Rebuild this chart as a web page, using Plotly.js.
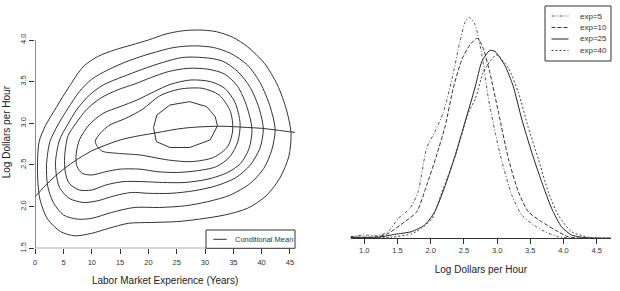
<!DOCTYPE html>
<html><head><meta charset="utf-8">
<script src="https://cdn.plot.ly/plotly-3.0.1.min.js"></script>
<style>html,body{margin:0;padding:0;background:#fff}#chart{width:620px;height:291px}</style>
</head><body><div id="chart"></div>
<script>
// ---------- Left panel: bivariate density contours (experience vs log wage) ----------
const expTicks = [0, 5, 10, 15, 20, 25, 30, 35, 40, 45];
const wageTicksLeft = [1.5, 2.0, 2.5, 3.0, 3.5, 4.0];

const contour1X = [0.4,0.7,1.8,3.8,6.0,8.5,11.0,14.0,17.0,20.0,23.0,26.0,29.0,32.0,35.0,37.5,40.5,42.8,44.4,45.2,44.8,43.2,40.8,37.5,33.5,29.0,25.0,20.5,16.5,13.0,10.0,7.0,4.5,2.2,0.8,0.4];
const contour1Y = [2.45,2.78,2.97,3.2,3.44,3.68,3.8,3.88,3.94,4.0,4.07,4.11,4.12,4.1,4.03,3.92,3.72,3.46,3.16,2.88,2.6,2.34,2.13,1.98,1.9,1.85,1.82,1.81,1.8,1.74,1.68,1.65,1.7,1.85,2.1,2.45];
const contour2X = [2.0,2.6,4.0,5.8,7.8,10.0,12.8,16.5,20.5,24.5,28.0,31.5,34.5,37.5,39.8,41.5,42.4,41.8,40.4,38.0,34.5,30.5,26.5,22.0,17.5,13.5,10.0,7.5,5.0,3.2,2.2,2.0];
const contour2Y = [2.5,2.78,2.98,3.18,3.38,3.53,3.64,3.75,3.84,3.91,3.93,3.91,3.84,3.7,3.48,3.2,2.93,2.68,2.46,2.28,2.14,2.06,2.01,1.99,1.99,1.93,1.86,1.85,1.9,2.05,2.25,2.5];
const contour3X = [3.6,4.3,5.6,7.4,9.6,12.0,15.5,19.0,22.5,26.0,29.5,33.0,35.8,38.0,39.6,40.3,39.7,38.0,35.5,32.0,28.0,24.0,20.0,17.0,14.0,11.0,8.5,6.0,4.3,3.7,3.6];
const contour3Y = [2.55,2.8,2.97,3.17,3.34,3.46,3.56,3.65,3.73,3.79,3.79,3.75,3.62,3.43,3.17,2.93,2.7,2.5,2.35,2.25,2.19,2.16,2.16,2.17,2.13,2.07,2.05,2.1,2.23,2.4,2.55];
const contour4X = [5.2,5.8,7.2,9.0,11.5,14.5,17.5,20.5,23.5,27.0,30.5,33.5,35.8,37.4,38.3,37.8,36.3,34.0,30.5,26.5,22.5,19.0,15.5,12.5,10.0,7.8,6.0,5.3,5.2];
const contour4Y = [2.6,2.85,3.0,3.16,3.3,3.4,3.47,3.55,3.62,3.66,3.65,3.59,3.44,3.2,2.93,2.7,2.52,2.41,2.33,2.29,2.29,2.3,2.3,2.26,2.2,2.2,2.28,2.42,2.6];
const contour5X = [7.2,7.8,9.5,12.0,15.0,18.0,21.0,24.0,27.5,31.0,33.5,35.3,36.2,35.8,34.4,32.0,28.5,25.0,21.5,18.5,15.0,12.5,10.0,8.3,7.4,7.2];
const contour5Y = [2.6,2.8,2.98,3.12,3.2,3.28,3.38,3.47,3.52,3.5,3.42,3.25,3.0,2.78,2.6,2.48,2.43,2.41,2.42,2.45,2.45,2.42,2.38,2.4,2.48,2.6];
const contour6X = [10.6,11.5,13.2,16.0,19.0,22.0,25.5,29.5,32.5,34.5,34.9,34.0,31.5,27.5,23.5,18.5,14.5,11.7,10.6];
const contour6Y = [2.78,2.88,2.98,3.06,3.17,3.33,3.41,3.42,3.34,3.14,2.92,2.72,2.59,2.54,2.56,2.62,2.64,2.67,2.78];
const contour7X = [20.9,21.5,23.8,27.3,30.3,31.8,32.2,30.9,27.3,23.8,21.4,20.9];
const contour7Y = [2.95,3.1,3.22,3.26,3.2,3.08,2.97,2.8,2.71,2.71,2.78,2.95];

const condMeanX = [0,2.5,5,7.5,10,12.5,15,17.5,20,22.5,25,27.5,30,32.5,35,37.5,40,42.5,45.9];
const condMeanY = [2.12,2.3,2.45,2.57,2.67,2.74,2.8,2.84,2.87,2.9,2.93,2.95,2.96,2.965,2.96,2.95,2.94,2.92,2.89];
const condMeanName = 'Conditional Mean';

// ---------- Right panel: conditional densities of log wage ----------
const wageTicksRight = [1.0, 1.5, 2.0, 2.5, 3.0, 3.5, 4.0, 4.5];
const seriesNames = ['exp=5', 'exp=10', 'exp=25', 'exp=40'];
const exp5X  = [0.79,1.0,1.2,1.36,1.51,1.69,1.81,1.94,2.06,2.19,2.32,2.44,2.52,2.58,2.67,2.77,2.87,2.97,3.07,3.22,3.37,3.55,3.72,3.92,4.17,4.72];
const exp5Y  = [0.007,0.015,0.012,0.03,0.09,0.136,0.21,0.41,0.48,0.57,0.72,0.89,0.98,1.0,0.965,0.83,0.63,0.48,0.35,0.196,0.105,0.06,0.03,0.007,0.0,0.0];
const exp10X = [0.79,1.21,1.36,1.61,1.79,1.94,2.09,2.22,2.34,2.47,2.59,2.70,2.79,2.89,3.02,3.17,3.32,3.47,3.67,3.87,4.07,4.3,4.72];
const exp10Y = [0.005,0.007,0.022,0.075,0.12,0.24,0.377,0.51,0.68,0.81,0.875,0.905,0.86,0.75,0.57,0.36,0.21,0.12,0.075,0.038,0.007,0.0,0.0];
const exp25X = [0.79,1.21,1.46,1.71,1.91,2.06,2.22,2.37,2.52,2.67,2.77,2.89,2.97,3.12,3.24,3.37,3.52,3.67,3.82,3.97,4.12,4.32,4.72];
const exp25Y = [0.005,0.005,0.018,0.03,0.06,0.12,0.24,0.377,0.53,0.685,0.8,0.85,0.845,0.78,0.69,0.54,0.39,0.256,0.136,0.052,0.015,0.003,0.0];
const exp40X = [0.79,1.4,1.71,1.86,2.02,2.17,2.37,2.57,2.67,2.79,2.89,2.99,3.17,3.32,3.47,3.62,3.77,3.92,4.12,4.37,4.72];
const exp40Y = [0.003,0.005,0.02,0.045,0.09,0.21,0.37,0.57,0.63,0.75,0.80,0.83,0.77,0.66,0.50,0.36,0.21,0.105,0.03,0.005,0.0];

const FONT = 'Liberation Sans, Arial, Helvetica, sans-serif';
const INK = '#333';
const W = 620, H = 291;
const px = v => v / W;           // pixel -> paper x
const py = v => (H - v) / H;     // pixel -> paper y

const contours = [
  [contour1X, contour1Y], [contour2X, contour2Y], [contour3X, contour3Y],
  [contour4X, contour4Y], [contour5X, contour5Y], [contour6X, contour6Y],
  [contour7X, contour7Y]
];
const traces = [];
contours.forEach((c, i) => {
  traces.push({
    x: c[0], y: c[1], type: 'scatter', mode: 'lines', xaxis: 'x', yaxis: 'y',
    line: {color: INK, width: 1, shape: i === 6 ? 'linear' : 'spline', smoothing: 0.8},
    showlegend: false, hoverinfo: 'skip'
  });
});
traces.push({
  x: condMeanX, y: condMeanY, name: condMeanName, type: 'scatter', mode: 'lines',
  xaxis: 'x', yaxis: 'y', line: {color: INK, width: 1, shape: 'spline'}, showlegend: false
});

const dens = [[exp5X, exp5Y], [exp10X, exp10Y], [exp25X, exp25Y], [exp40X, exp40Y]];
const dashes = ['3px,2px,1px,2px', '4px,2px', 'solid', '2px,2px'];
const densColors = ['#555', '#333', '#222', '#444'];
dens.forEach((d, i) => {
  traces.push({
    x: d[0], y: d[1], name: seriesNames[i], type: 'scatter', mode: 'lines',
    xaxis: 'x2', yaxis: 'y2', line: {color: densColors[i], width: 1, dash: dashes[i], shape: 'spline', smoothing: 0.6},
    showlegend: false
  });
});

// manual R-style legends
const shapes = [
  // left panel axis lines (R draws them from first to last tick)
  {type: 'line', xref: 'x', yref: 'y', x0: expTicks[0], x1: expTicks[expTicks.length - 1], y0: wageTicksLeft[0], y1: wageTicksLeft[0], line: {color: INK, width: 1}},
  {type: 'line', xref: 'x', yref: 'y', x0: expTicks[0], x1: expTicks[0], y0: wageTicksLeft[0], y1: wageTicksLeft[wageTicksLeft.length - 1], line: {color: INK, width: 1}},
  // left legend box
  {type: 'rect', xref: 'paper', yref: 'paper', x0: px(206), x1: px(295), y0: py(248.3), y1: py(230), line: {color: INK, width: 1}, fillcolor: 'white'},
  {type: 'line', xref: 'paper', yref: 'paper', x0: px(213.3), x1: px(226.7), y0: py(239.3), y1: py(239.3), line: {color: INK, width: 1}},
  // right legend box
  {type: 'rect', xref: 'paper', yref: 'paper', x0: px(545), x1: px(611), y0: py(61), y1: py(6), line: {color: INK, width: 1}, fillcolor: 'white'}
];
const annotations = [
  {xref: 'paper', yref: 'paper', x: px(233), y: py(239.3), xanchor: 'left', yanchor: 'middle', showarrow: false,
   text: condMeanName, font: {family: FONT, size: 7.5, color: INK}}
];
const rowY = [16, 27.5, 39, 50.5];
seriesNames.forEach((nm, i) => {
  shapes.push({type: 'line', xref: 'paper', yref: 'paper', x0: px(551.5), x1: px(568.5), y0: py(rowY[i]), y1: py(rowY[i]),
    line: {color: densColors[i], width: 1, dash: dashes[i]}});
  annotations.push({xref: 'paper', yref: 'paper', x: px(577.5), y: py(rowY[i]), xanchor: 'left', yanchor: 'middle', showarrow: false,
    text: nm, font: {family: FONT, size: 8, color: INK}});
});

const tickFont = {family: FONT, size: 7.5, color: INK};
const titleFont = {family: FONT, size: 10, color: '#222'};

const layout = {
  width: W, height: H,
  margin: {l: 0, r: 0, t: 0, b: 0},
  paper_bgcolor: 'white', plot_bgcolor: 'white',
  showlegend: false,
  font: {family: FONT, color: INK},
  xaxis: {
    domain: [px(35.2), px(295)], range: [0, 45.9], anchor: 'y',
    tickmode: 'array', tickvals: expTicks, ticktext: expTicks.map(String),
    ticks: 'outside', ticklen: 5, tickwidth: 1, tickcolor: INK, tickfont: tickFont, ticklabelstandoff: 2,
    showgrid: false, zeroline: false, showline: false,
    title: {text: 'Labor Market Experience (Years)', font: titleFont, standoff: 10}
  },
  yaxis: {
    domain: [py(248.3), py(16)], range: [1.5, 4.288], anchor: 'x',
    tickmode: 'array', tickvals: wageTicksLeft, ticktext: wageTicksLeft.map(v => v.toFixed(1)),
    tickangle: -90,
    ticks: 'outside', ticklen: 5, tickwidth: 1, tickcolor: INK, tickfont: tickFont,
    showgrid: false, zeroline: false, showline: false,
    title: {text: 'Log Dollars per Hour', font: titleFont, standoff: 6}
  },
  xaxis2: {
    domain: [px(350.7), px(611)], range: [0.795, 4.715], anchor: 'y2',
    tickmode: 'array', tickvals: wageTicksRight, ticktext: wageTicksRight.map(v => v.toFixed(1)),
    ticks: 'outside', ticklen: 5, tickwidth: 1, tickcolor: INK, tickfont: tickFont,
    showgrid: false, zeroline: false, showline: true, linecolor: INK, linewidth: 1,
    title: {text: 'Log Dollars per Hour', font: titleFont, standoff: 11}
  },
  yaxis2: {
    domain: [py(238.3), py(6)], range: [0, 1.051], anchor: 'x2', visible: false
  },
  shapes: shapes,
  annotations: annotations
};

Plotly.newPlot('chart', traces, layout, {displayModeBar: false, staticPlot: true});
</script>
</body></html>
